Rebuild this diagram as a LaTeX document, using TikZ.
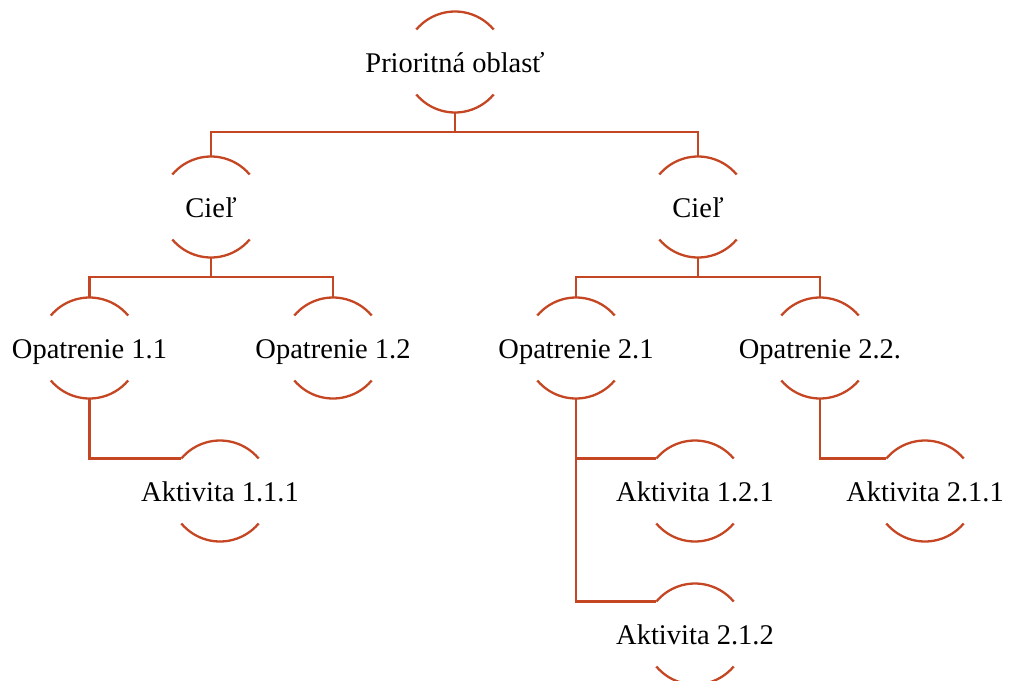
\documentclass[tikz,border=0pt]{standalone}
\usepackage{fontspec}
\setmainfont{Liberation Serif}
\definecolor{linec}{RGB}{196,70,34}
\begin{document}
\begin{tikzpicture}[x=1pt,y=1pt,
  ring/.style={circle,draw=none,minimum size=101pt,inner sep=0pt,outer sep=0pt,
    text height=20pt,text depth=0pt,font=\fontsize{28.5}{30}\selectfont},
  conn/.style={draw=linec,line width=2.3pt},
  arcline/.style={draw=linec,line width=2.3pt}]
\clip (0,0) rectangle (1032,-680);
\useasboundingbox (0,0) rectangle (1032,-680);
\node[ring] (top) at (455,-62) {\makebox[0pt]{Prioritná oblasť}};
\node[ring] (c1) at (211,-207) {\makebox[0pt]{Cieľ}};
\node[ring] (c2) at (698,-207) {\makebox[0pt]{Cieľ}};
\node[ring] (o11) at (89.5,-348) {\makebox[0pt]{Opatrenie 1.1}};
\node[ring] (o12) at (333,-348) {\makebox[0pt]{Opatrenie 1.2}};
\node[ring] (o21) at (576,-348) {\makebox[0pt]{Opatrenie 2.1}};
\node[ring] (o22) at (820,-348) {\makebox[0pt]{Opatrenie 2.2.}};
\node[ring] (a111) at (220,-491) {\makebox[0pt]{Aktivita 1.1.1}};
\node[ring] (a121) at (695,-491) {\makebox[0pt]{Aktivita 1.2.1}};
\node[ring] (a211) at (925,-491) {\makebox[0pt]{Aktivita 2.1.1}};
\node[ring] (a212) at (695,-634) {\makebox[0pt]{Aktivita 2.1.2}};
\foreach \n in {top,c1,c2,o11,o12,o21,o22,a111,a121,a211,a212}{
  \draw[arcline] (\n.140) arc[start angle=140,end angle=40,radius=50.5];
  \draw[arcline] (\n.220) arc[start angle=220,end angle=320,radius=50.5];
}
\draw[conn] (top.south) -- ++(0,-19.5) coordinate (b1);
\draw[conn] (b1) -| (c1.north);
\draw[conn] (b1) -| (c2.north);
\draw[conn] (c1.south) -- ++(0,-19.5) coordinate (b2);
\draw[conn] (b2) -| (o11.north);
\draw[conn] (b2) -| (o12.north);
\draw[conn] (c2.south) -- ++(0,-19.5) coordinate (b3);
\draw[conn] (b3) -| (o21.north);
\draw[conn] (b3) -| (o22.north);
\draw[conn] (o11.south) |- (a111.140);
\draw[conn] (o21.south) |- (a121.140);
\draw[conn] (o21.south) |- (a212.140);
\draw[conn] (o22.south) |- (a211.140);
\end{tikzpicture}
\end{document}
